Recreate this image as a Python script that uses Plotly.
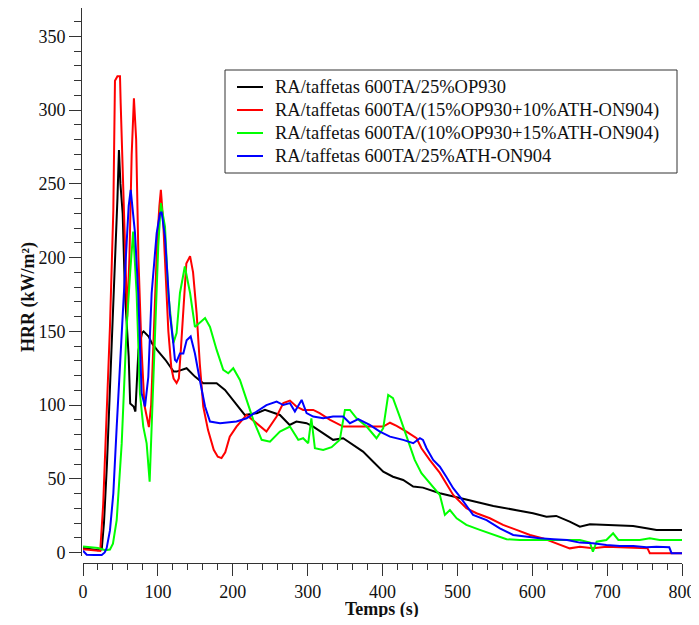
import plotly.graph_objects as go

# ---- data ----
names = [
    "RA/taffetas 600TA/25%OP930",
    "RA/taffetas 600TA/(15%OP930+10%ATH-ON904)",
    "RA/taffetas 600TA/(10%OP930+15%ATH-ON904)",
    "RA/taffetas 600TA/25%ATH-ON904",
]
colors = ["#000000", "#ff0000", "#00ff00", "#0000ff"]

t_black = [0, 10, 20, 25, 28, 32, 36, 40, 43, 46, 48, 50, 53, 56, 59, 61, 63, 67.6, 70, 72, 74, 78.8, 81,
           87.7, 92, 98.8, 110, 121, 125, 138.4, 149.5, 160.6, 178.5, 189.6, 205, 216, 232, 243, 263, 276,
           285, 298.6, 307.5, 320.8, 334, 347.5, 360.9, 374, 387.6, 401, 414, 427.6, 441, 454, 476.6, 494.4,
           512, 530, 548, 565.7, 583.4, 601, 619, 632, 650, 663.6, 677, 699, 717, 734.7, 752.6, 766, 788,
           806, 810]
hrr_black = [3, 2.5, 1.5, 2, 20, 60, 110, 160, 200, 240, 273, 250, 230, 176, 150, 133, 101, 99, 95.6, 112.5,
             137, 148.8, 150, 146.5, 142, 137.4, 130.7, 122.7, 122.7, 125, 119.3, 114.8, 114.8, 110.3, 100,
             93.3, 94.5, 96.7, 93.3, 86.5, 88.8, 87.7, 85.4, 80.9, 76.4, 77.5, 73, 68.4, 61.6, 54.8, 51.4,
             49.2, 44.7, 44, 40.2, 37.9, 35.6, 33.8, 31.6, 30, 28.2, 26.6, 24.3, 24.8, 20.9, 17.5, 19.1, 18.7,
             18.7, 18, 16.4, 15.3, 15.3, 15.3, 14]

t_red = [0, 10, 20, 23, 27, 31.6, 36, 40.5, 42.7, 46, 49.4, 50.3, 53, 56, 59, 62, 65, 68, 71, 74, 78, 82,
         86, 88, 91, 95, 99, 102, 104, 107, 110, 114, 118, 121, 125, 128, 131, 134, 138, 143, 147, 151.8,
         156, 160.6, 167, 174.6, 180, 185, 190, 196, 205, 218.5, 232, 245, 258.6, 267.5, 276.4, 285, 294,
         307.5, 316, 330, 347.5, 365, 383, 401, 410, 418.8, 432, 445.5, 452, 463, 476.6, 485.6, 494.4, 512,
         525.6, 543.4, 561, 579, 597, 614.6, 632.4, 650, 663.6, 681, 699, 717, 735, 754, 757, 788, 810]
hrr_red = [2.2, 1.5, 1, 1, 33, 92, 153, 232, 320, 323, 323, 305, 260, 200, 160, 200, 270, 308, 280, 200,
           140, 100, 88, 85, 100, 160, 210, 235, 246, 225, 190, 150, 125, 118, 115, 118, 140, 162, 196, 201,
           190, 162, 128, 99, 83, 69.6, 65, 64, 68, 78.6, 85.4, 93.3, 87.7, 82, 92.2, 101.3, 103, 99, 96.7,
           96.7, 94.5, 90, 85.4, 85.4, 85.4, 85.4, 88, 85.9, 82, 77.5, 70.7, 62.8, 54, 46, 39, 30, 26.6,
           23.2, 18.7, 15.3, 11.9, 9.6, 6.2, 2.8, 3.9, 2.8, 3.9, 3.5, 2.8, 2.8, -0.5, -0.5, -0.5]

t_green = [0, 10, 20, 30, 36, 40, 45, 51.7, 58.3, 63, 67, 71.6, 76, 80.5, 85, 89, 91.7, 96, 100.5, 104,
           109.5, 113.9, 120.6, 125, 129.5, 136, 143, 149.5, 156, 163, 169.6, 178.5, 187.3, 194, 200.7,
           209.6, 218.5, 227.4, 238.6, 249.7, 263, 276.4, 287.5, 294, 300.8, 305, 309.7, 320.8, 332, 343,
           349.8, 356.5, 365.4, 378.8, 392, 401, 407.6, 414, 423, 432, 443, 452, 463, 476.6, 483.3, 490,
           499, 512, 530, 548, 565.7, 583.4, 610, 637, 663.6, 677, 681, 686, 699, 708, 715, 743.7, 757,
           770, 810]
hrr_green = [4, 3.5, 3, 1.5, 2, 6, 22, 74, 153, 190, 217.7, 176, 108, 85.4, 74, 48, 85.4, 153, 207.5, 237,
             221, 176, 142, 148.8, 176, 194, 176, 153, 155.6, 159, 153, 137.4, 123.9, 121.6, 125, 117,
             103.5, 90, 76.4, 75.2, 82, 85.4, 76.4, 77.5, 74.1, 91, 70.7, 69.6, 71.4, 76.4, 96.7, 96.7, 91,
             85.4, 77.5, 84.3, 106.9, 104.7, 92.2, 78.6, 62.8, 53.8, 47, 39, 25.5, 28.8, 23.2, 18.7, 15.3,
             11.9, 9, 8.5, 8.5, 8.5, 8.5, 6.7, 0.5, 7.3, 8.5, 13, 8.5, 8.5, 9.6, 8.5, 8.5]

t_blue = [0, 5, 15, 25, 29, 31.6, 36, 40.5, 45, 49.4, 54, 58.3, 61, 63.7, 66, 69.4, 73.8, 78.3, 82.8,
          87.2, 91.7, 98.4, 102.8, 105, 109.5, 113.9, 116, 120.6, 122.8, 125, 129.5, 134, 138.4, 143.8,
          149.5, 156, 163, 169.6, 183, 205, 218.5, 232, 245, 258.6, 267.5, 276.4, 283, 292, 298.6, 307.5,
          320.8, 334, 347.5, 356.5, 367.6, 383, 396.5, 410, 427.6, 441, 450, 454, 458.8, 467.7, 476.6,
          485.6, 494.4, 503.3, 521, 539, 556.7, 574.5, 592.4, 610, 628.6, 646.5, 663.6, 681, 699, 717, 735,
          752.6, 766, 783, 786, 810]
hrr_blue = [1.2, -1.5, -1.7, -1.7, 0, 3, 15, 40, 85, 130.7, 170, 210, 235, 246, 235, 217, 176, 108, 99, 119,
            176, 216.6, 230, 231, 214, 176, 162, 142, 130.7, 129.5, 135, 135, 144, 146.5, 135, 117, 99,
            88.8, 87.7, 88.8, 91, 95.6, 100, 102.4, 100, 101.3, 95.6, 103.5, 94.5, 92.2, 91, 92.2, 92.2,
            87.7, 90.4, 86.5, 82, 78.6, 76.4, 74.1, 77.5, 76.4, 70.7, 62.8, 58.2, 51, 43.6, 37.9, 25.5, 22,
            16.4, 11.9, 10.7, 9.6, 9, 8.5, 6.7, 6.2, 5.1, 4.4, 4.4, 3.5, 3.9, 3.5, -0.5, -0.5]

x_ticks = [0, 100, 200, 300, 400, 500, 600, 700, 800]
y_ticks = [0, 50, 100, 150, 200, 250, 300, 350]

series = [(t_black, hrr_black), (t_red, hrr_red), (t_green, hrr_green), (t_blue, hrr_blue)]

FONT = "Liberation Serif"
OFF = 8                      # page body margin of the html page
W, H = 699 - OFF, 625 - 2 * OFF
ML, MR, MT, MB = 73, 17, 0, 54
PW, PH = W - ML - MR, H - MT - MB


def px(x):  # screen pixel -> paper x
    return (x - OFF - ML) / PW


def py(y):  # screen pixel -> paper y
    return (H - MB - (y - OFF)) / PH


fig = go.Figure()
for (tx, vy), nm, col in zip(series, names, colors):
    fig.add_trace(go.Scatter(x=tx, y=vy, mode="lines", name=nm,
                             line=dict(color=col, width=2), showlegend=False))

# hand-built legend box (Origin style)
shapes = [dict(type="rect", xref="paper", yref="paper",
               x0=px(225), x1=px(677), y0=py(173), y1=py(70),
               line=dict(color="#333", width=1), fillcolor="white", layer="above")]
annotations = []
row_y = [87, 110, 133, 156]
for nm, col, ry in zip(names, colors, row_y):
    shapes.append(dict(type="line", xref="paper", yref="paper",
                       x0=px(237), x1=px(263), y0=py(ry), y1=py(ry),
                       line=dict(color=col, width=2), layer="above"))
    annotations.append(dict(text=nm, xref="paper", yref="paper", x=px(273), y=py(ry),
                            xanchor="left", yanchor="middle", showarrow=False,
                            font=dict(family=FONT, size=18.5, color="#111")))

annotations += [
    dict(text="Temps (s)", xref="paper", yref="paper", x=px(382), y=py(609),
         xanchor="center", yanchor="middle", showarrow=False, height=16,
         font=dict(family=FONT, size=18, color="#111", weight="bold")),
    dict(text="HRR (kW/m²)", xref="paper", yref="paper", x=px(28), y=py(297),
         xanchor="center", yanchor="middle", showarrow=False, textangle=-90,
         font=dict(family=FONT, size=18, color="#111", weight="bold")),
]

fig.update_layout(
    width=W, height=H,
    margin=dict(l=ML, r=MR, t=MT, b=MB, autoexpand=False),
    paper_bgcolor="white", plot_bgcolor="white",
    font=dict(family=FONT, size=18, color="#111"),
    showlegend=False,
    xaxis=dict(domain=[2 / PW, 1], range=[0, 800], anchor="free", position=0, automargin=False,
               showline=True, linecolor="#333", linewidth=1,
               ticks="outside", ticklen=12, tickwidth=1, tickcolor="#333",
               tickvals=x_ticks, ticktext=[str(v) for v in x_ticks], ticklabeloverflow="allow",
               minor=dict(dtick=20, ticks="outside", ticklen=6, tickcolor="#333", showgrid=False),
               showgrid=False, zeroline=False,
               tickfont=dict(family=FONT, size=18, color="#111")),
    yaxis=dict(domain=[7 / PH, 1], range=[-2.38, 369.3], anchor="free", position=0, automargin=False,
               showline=True, linecolor="#333", linewidth=1,
               ticks="outside", ticklen=12, tickwidth=1, tickcolor="#333",
               tickvals=y_ticks, ticktext=[str(v) for v in y_ticks], ticklabeloverflow="allow",
               minor=dict(dtick=10, tick0=0, ticks="outside", ticklen=7, tickcolor="#333", showgrid=False),
               showgrid=False, zeroline=False,
               tickfont=dict(family=FONT, size=18, color="#111")),
    shapes=shapes,
    annotations=annotations,
)

fig.write_html("out.html")
